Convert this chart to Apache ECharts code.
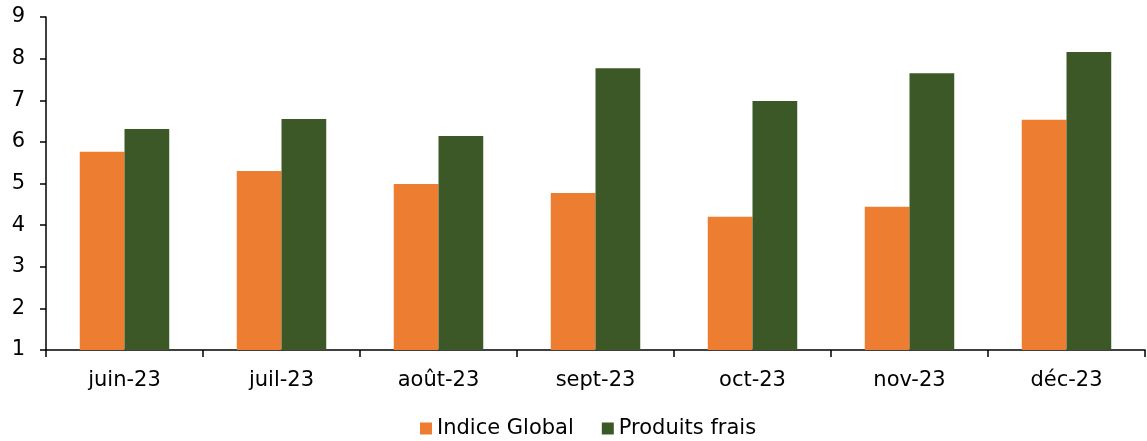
<!DOCTYPE html>
<html>
<head>
<meta charset="utf-8">
<script src="https://cdn.jsdelivr.net/npm/echarts@6/dist/echarts.min.js"></script>
<style>
html,body{margin:0;padding:0;background:#fff;}
#chart{width:1147px;height:441px;}
</style>
</head>
<body>
<div id="chart"></div>
<script>
var months = ['juin-23', 'juil-23', 'août-23', 'sept-23', 'oct-23', 'nov-23', 'déc-23'];
var indiceGlobal = [5.76, 5.30, 4.99, 4.77, 4.20, 4.44, 6.53];
var produitsFrais = [6.31, 6.55, 6.14, 7.77, 6.98, 7.65, 8.16];
var yTicks = [1, 2, 3, 4, 5, 6, 7, 8, 9];

var font = '"DejaVu Sans", Verdana, sans-serif';
var chart = echarts.init(document.getElementById('chart'));
var option = {
    animation: false,
    grid: {left: 46, right: 2, top: 17, bottom: 91},
    legend: {
        top: 413,
        left: 415,
        itemWidth: 12,
        itemHeight: 12,
        itemGap: 28,
        icon: 'rect',
        textStyle: {fontFamily: font, fontSize: 21, color: '#000', padding: [0, 0, 0, 0]},
        data: ['Indice Global', 'Produits frais']
    },
    xAxis: {
        type: 'category',
        data: months,
        axisLine: {lineStyle: {color: '#000', width: 1.5}},
        axisTick: {show: true, length: 7, lineStyle: {color: '#000', width: 1.5}},
        axisLabel: {fontFamily: font, fontSize: 21, color: '#000', margin: 20}
    },
    yAxis: {
        type: 'value',
        min: yTicks[0],
        max: yTicks[yTicks.length - 1],
        interval: 1,
        axisLine: {show: true, lineStyle: {color: '#000', width: 1.5}},
        axisTick: {show: true, length: 6, lineStyle: {color: '#000', width: 1.5}},
        axisLabel: {fontFamily: font, fontSize: 21, color: '#000', margin: 21},
        splitLine: {show: false}
    },
    series: [
        {
            name: 'Indice Global',
            type: 'bar',
            data: indiceGlobal,
            barGap: '0%',
            barCategoryGap: '43%',
            itemStyle: {color: '#ED7D31'}
        },
        {
            name: 'Produits frais',
            type: 'bar',
            data: produitsFrais,
            itemStyle: {color: '#3B5826'}
        }
    ]
};
chart.setOption(option);
</script>
</body>
</html>
